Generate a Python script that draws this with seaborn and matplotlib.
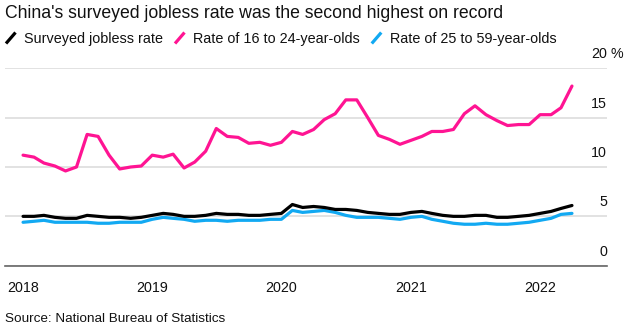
import numpy as np
import pandas as pd
import matplotlib
matplotlib.use("Agg")
import matplotlib.pyplot as plt
import matplotlib.dates as mdates
from matplotlib.lines import Line2D
from matplotlib.transforms import ScaledTranslation
import seaborn as sns

# ---------------- data ----------------
months = pd.date_range("2018-01-01", "2022-04-01", freq="MS")

surveyed = [5.0, 5.0, 5.1, 4.9, 4.8, 4.8, 5.1, 5.0, 4.9, 4.9, 4.8, 4.9,
            5.1, 5.3, 5.2, 5.0, 5.0, 5.1, 5.3, 5.2, 5.2, 5.1, 5.1, 5.2,
            5.3, 6.2, 5.9, 6.0, 5.9, 5.7, 5.7, 5.6, 5.4, 5.3, 5.2, 5.2,
            5.4, 5.5, 5.3, 5.1, 5.0, 5.0, 5.1, 5.1, 4.9, 4.9, 5.0, 5.1,
            5.3, 5.5, 5.8, 6.1]

youth_16_24 = [11.2, 11.0, 10.4, 10.1, 9.6, 10.0, 13.3, 13.1, 11.2, 9.8, 10.0, 10.1,
               11.2, 11.0, 11.3, 9.9, 10.5, 11.6, 13.9, 13.1, 13.0, 12.4, 12.5, 12.2,
               12.5, 13.6, 13.3, 13.8, 14.8, 15.4, 16.8, 16.8, 15.0, 13.2, 12.8, 12.3,
               12.7, 13.1, 13.6, 13.6, 13.8, 15.4, 16.2, 15.3, 14.7, 14.2, 14.3, 14.3,
               15.3, 15.3, 16.0, 18.2]

adult_25_59 = [4.4, 4.5, 4.6, 4.4, 4.4, 4.4, 4.4, 4.3, 4.3, 4.4, 4.4, 4.4,
               4.7, 4.9, 4.8, 4.7, 4.5, 4.6, 4.6, 4.5, 4.6, 4.6, 4.6, 4.7,
               4.7, 5.6, 5.4, 5.5, 5.6, 5.4, 5.1, 4.9, 4.9, 4.9, 4.8, 4.7,
               4.9, 5.0, 4.7, 4.5, 4.3, 4.2, 4.2, 4.3, 4.2, 4.2, 4.3, 4.4,
               4.6, 4.8, 5.2, 5.3]

series_names = ["Surveyed jobless rate", "Rate of 16 to 24-year-olds", "Rate of 25 to 59-year-olds"]
series_colors = ["#000000", "#ff1493", "#12a9f2"]
y_ticks = [0, 5, 10, 15, 20]
y_tick_labels = ["0", "5", "10", "15", "20"]
x_tick_years = [2018, 2019, 2020, 2021, 2022]

title = "China's surveyed jobless rate was the second highest on record"
source = "Source: National Bureau of Statistics"

# ---------------- build table ----------------
df = pd.concat([
    pd.DataFrame({"date": months, "value": surveyed, "series": series_names[0]}),
    pd.DataFrame({"date": months, "value": youth_16_24, "series": series_names[1]}),
    pd.DataFrame({"date": months, "value": adult_25_59, "series": series_names[2]}),
], ignore_index=True)

# ---------------- style ----------------
sns.set_style("white")
plt.rcParams["font.family"] = ["Liberation Sans", "DejaVu Sans"]

W, H = 627, 326
fig = plt.figure(figsize=(W / 100, H / 100), dpi=100)

def px_x(x):
    return x / W

def px_y(y):
    return 1 - y / H

ax_left, ax_right, ax_top, ax_bottom = 5, 607, 68.3, 265.7
ax = fig.add_axes([px_x(ax_left), px_y(ax_bottom),
                   (ax_right - ax_left) / W, (ax_bottom - ax_top) / H])

order = [series_names[2], series_names[0], series_names[1]]
palette = dict(zip(series_names, series_colors))
sns.lineplot(data=df, x="date", y="value", hue="series", hue_order=order,
             palette=palette, linewidth=2.3, ax=ax, legend=False)

ax.set_xlim(pd.Timestamp("2017-11-11"), pd.Timestamp("2022-07-09"))
ax.set_ylim(0, 20)

for sp in ["top", "left", "right"]:
    ax.spines[sp].set_visible(False)
ax.spines["bottom"].set_color("#666666")
ax.spines["bottom"].set_linewidth(1.2)
ax.spines["bottom"].set_zorder(5)

ax.set_xticks([pd.Timestamp(f"{y}-01-01") for y in x_tick_years])
ax.set_xticklabels([str(y) for y in x_tick_years])
ax.tick_params(axis="x", direction="out", length=6, width=1.2, color="#666666",
               pad=5, labelsize=10.3, labelcolor="#111111")

ax.set_yticks(y_ticks)
ax.set_yticklabels(y_tick_labels)
ax.yaxis.tick_right()
ax.tick_params(axis="y", length=0, pad=0, labelsize=10.3, labelcolor="#111111")
offset = ScaledTranslation(0, 0.10, fig.dpi_scale_trans)
for lab in ax.get_yticklabels():
    lab.set_horizontalalignment("right")
    lab.set_verticalalignment("baseline")
    lab.set_transform(lab.get_transform() + offset)

ax.grid(axis="y", color="#dddddd", linewidth=1.2)
ax.grid(axis="x", visible=False)
ax.set_xlabel("")
ax.set_ylabel("")

# percent sign next to the top label
ax.text(1.0, 20, " %", transform=ax.get_yaxis_transform() + offset,
        ha="left", va="baseline", fontsize=10.3, color="#111111", clip_on=False)

# ---------------- title ----------------
fig.text(px_x(5), px_y(18.5), title, ha="left", va="baseline",
         fontsize=12.7, color="#111111")

# ---------------- legend ----------------
renderer = fig.canvas.get_renderer()
cursor = 6.0
base_y = 43.5
for name, col in zip(series_names, series_colors):
    fig.add_artist(Line2D([px_x(cursor), px_x(cursor + 9.5)],
                          [px_y(base_y), px_y(base_y - 11)],
                          color=col, linewidth=2.3, solid_capstyle="butt",
                          transform=fig.transFigure))
    cursor += 18
    t = fig.text(px_x(cursor), px_y(base_y), name, ha="left", va="baseline",
                 fontsize=10.4, color="#111111")
    bb = t.get_window_extent(renderer)
    cursor += bb.width + 12

# ---------------- source ----------------
fig.text(px_x(5), px_y(321.5), source, ha="left", va="baseline",
         fontsize=9.7, color="#111111")

fig.savefig("out.png", dpi=100)
